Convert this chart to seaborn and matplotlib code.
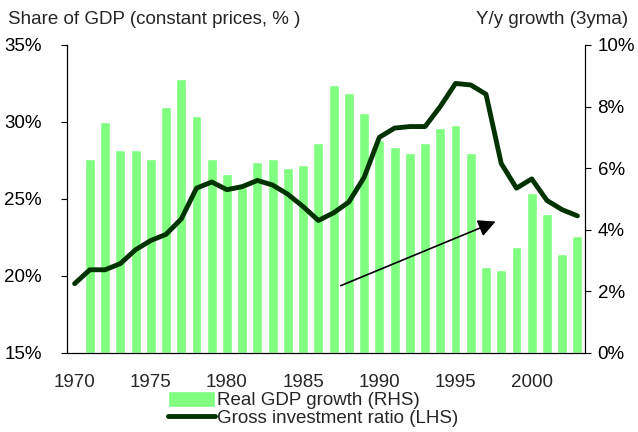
import matplotlib
matplotlib.use("Agg")
import matplotlib.pyplot as plt
import seaborn as sns
import pandas as pd
from matplotlib.ticker import FixedLocator, PercentFormatter

years = list(range(1970, 2004))

# Gross investment ratio, % of GDP (LHS)
invest = [19.5, 20.4, 20.4, 20.8, 21.7, 22.3, 22.7, 23.7, 25.7, 26.1,
          25.6, 25.8, 26.2, 25.9, 25.3, 24.5, 23.6, 24.1, 24.8, 26.4,
          29.0, 29.6, 29.7, 29.7, 31.0, 32.5, 32.4, 31.8, 27.3, 25.7,
          26.3, 24.9, 24.3, 23.9]

# Real GDP growth, y/y 3yma (RHS), 1971-2003
growth_years = list(range(1971, 2004))
growth = [6.3, 7.5, 6.6, 6.6, 6.3, 8.0, 8.9, 7.7, 6.3, 5.8,
          5.4, 6.2, 6.3, 6.0, 6.1, 6.8, 8.7, 8.45, 7.8, 6.9,
          6.7, 6.5, 6.8, 7.3, 7.4, 6.5, 2.8, 2.7, 3.45, 5.2,
          4.5, 3.2, 3.8]

line_df = pd.DataFrame({"pos": [y - 1970 for y in years], "invest": invest})
bar_df = pd.DataFrame({"pos": [y - 1970 for y in growth_years], "growth": growth})

FS = 13.5

sns.set_style("white")
plt.rcParams["font.family"] = ["Liberation Sans", "DejaVu Sans"]
plt.rcParams["font.size"] = FS

fig = plt.figure(figsize=(6.38, 4.32), dpi=100)
ax = fig.add_axes([0.105, 0.183, 0.812, 0.713])

# bars on the growth axis (right)
sns.barplot(data=bar_df, x="pos", y="growth", native_scale=True, width=0.65,
            color="#80FF80", saturation=1, ax=ax, label="Real GDP growth (RHS)")
if ax.get_legend() is not None:
    ax.get_legend().remove()

# line on the investment axis (left)
ax2 = ax.twinx()
sns.lineplot(data=line_df, x="pos", y="invest", color="#003300", linewidth=3.5,
             ax=ax2, label="Gross investment ratio (LHS)", legend=False)
if ax2.get_legend() is not None:
    ax2.get_legend().remove()

ax.set_ylim(0, 10)
ax.yaxis.set_major_locator(FixedLocator([0, 2, 4, 6, 8, 10]))
ax.yaxis.set_major_formatter(PercentFormatter(decimals=0))
ax.yaxis.set_ticks_position("right")
ax.yaxis.set_label_position("right")

ax2.set_ylim(15, 35)
ax2.yaxis.set_major_locator(FixedLocator([15, 20, 25, 30, 35]))
ax2.yaxis.set_major_formatter(PercentFormatter(decimals=0))
ax2.yaxis.set_ticks_position("left")
ax2.yaxis.set_label_position("left")

for a in (ax, ax2):
    a.set_xlim(-0.5, 33.5)
    a.set_xlabel("")
    a.set_ylabel("")
    a.spines["top"].set_visible(False)
    for s in ("left", "right", "bottom"):
        a.spines[s].set_color("black")
        a.spines[s].set_linewidth(0.8)
    a.tick_params(axis="both", direction="out", length=4, width=0.8,
                  colors="black", labelsize=FS)

ax.tick_params(axis="y", pad=5)
ax2.tick_params(axis="y", pad=14)

# x ticks between categories, labels at categories
ax.set_xticks([p - 0.5 for p in range(0, 34, 5)])
ax.set_xticklabels([])
ax.set_xticks(list(range(0, 34, 5)), minor=True)
ax.set_xticklabels([str(1970 + p) for p in range(0, 34, 5)], minor=True)
ax.tick_params(axis="x", which="minor", length=0, pad=15)
ax.tick_params(axis="x", which="major", length=4)

# arrow
ax2.annotate("", xy=(27.8, 23.6), xytext=(17.3, 19.3),
             arrowprops=dict(arrowstyle="-|>", color="black", lw=1.2,
                             mutation_scale=26))

fig.text(0.013, 0.954, "Share of GDP (constant prices, % )", fontsize=FS,
         ha="left", va="center")
fig.text(0.985, 0.954, "Y/y growth (3yma)", fontsize=FS,
         ha="right", va="center")

h1, l1 = ax.get_legend_handles_labels()
h2, l2 = ax2.get_legend_handles_labels()
fig.legend(h1 + h2, l1 + l2, loc="upper left", bbox_to_anchor=(0.263, 0.095),
           frameon=False, fontsize=FS, handlelength=2.5, handleheight=0.9,
           handletextpad=0.15, labelspacing=0.0, borderpad=0,
           borderaxespad=0)

fig.savefig("out.png", dpi=100)
